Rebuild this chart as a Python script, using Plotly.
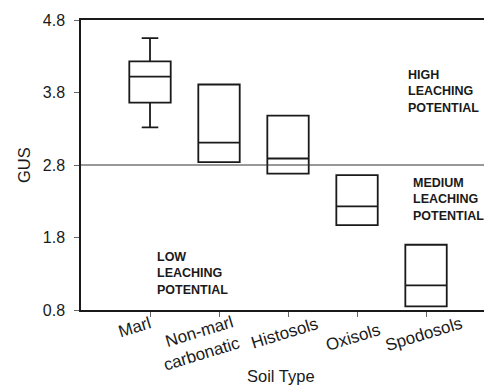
import plotly.graph_objects as go

categories = ["Marl", "Non-marl carbonatic", "Histosols", "Oxisols", "Spodosols"]
tick_labels = ["Marl", "Non-marl<br>carbonatic", "Histosols", "Oxisols", "Spodosols"]
upper = [4.55, 3.91, 3.48, 2.66, 1.70]
q3 = [4.23, 3.91, 3.48, 2.66, 1.70]
median = [4.02, 3.11, 2.89, 2.23, 1.14]
q1 = [3.66, 2.84, 2.68, 1.97, 0.85]
lower = [3.32, 2.84, 2.68, 1.97, 0.85]
y_ticks = [0.8, 1.8, 2.8, 3.8, 4.8]
threshold = 2.8

FONT = "Liberation Sans, Arial, sans-serif"
INK = "#1a1a1a"

# plot area geometry (pixels)
W, H = 484, 387
ML, MT, MB = 81, 20, 77
PH = H - MT - MB


def py_to_paper(py):
    return (H - MB - py) / PH


fig = go.Figure()
fig.add_trace(go.Box(
    x=categories, q1=q1, median=median, q3=q3,
    lowerfence=lower, upperfence=upper,
    width=0.6, whiskerwidth=0.4,
    fillcolor="rgba(255,255,255,0)",
    line=dict(color=INK, width=1.8),
    boxpoints=False, showlegend=False, hoverinfo="skip",
))

fig.add_shape(type="line", xref="paper", x0=0, x1=1, yref="y", y0=threshold, y1=threshold,
              line=dict(color="#333333", width=1))

# region labels
ann_font = dict(family=FONT, size=12.5, color=INK)
for text, x, y in [
    ("HIGH<br>LEACHING<br>POTENTIAL", 3.71, 4.17),
    ("MEDIUM<br>LEACHING<br>POTENTIAL", 3.78, 2.67),
    ("LOW<br>LEACHING<br>POTENTIAL", 0.07, 1.66),
]:
    fig.add_annotation(text=f"<b>{text}</b>", x=x, y=y, xref="x", yref="y",
                       xanchor="left", yanchor="top", align="left", showarrow=False,
                       font=ann_font)

# rotated category labels, placed at each category on the x scale
label_offsets = [(-16, 327), (-21, 343), (-4, 333), (-4, 337), (-3, 334)]
for cat, lab, (dx, py) in zip(categories, tick_labels, label_offsets):
    fig.add_annotation(text=lab, x=cat, xref="x", y=py_to_paper(py), yref="paper",
                       xanchor="center", yanchor="middle", align="right",
                       xshift=dx, textangle=-17, showarrow=False,
                       font=dict(family=FONT, size=17, color=INK))

# axis titles
fig.add_annotation(text="Soil Type", x=(281 - ML) / (W - ML), xref="paper",
                   y=py_to_paper(376), yref="paper", xanchor="center", yanchor="middle",
                   showarrow=False, font=dict(family=FONT, size=16.5, color=INK))
fig.add_annotation(text="GUS", x=(24 - ML) / (W - ML), xref="paper",
                   y=py_to_paper(165), yref="paper", xanchor="center", yanchor="middle",
                   textangle=-90, showarrow=False, font=dict(family=FONT, size=16.5, color=INK))

fig.update_layout(
    width=W, height=H,
    margin=dict(l=ML, r=0, t=MT, b=MB),
    paper_bgcolor="white", plot_bgcolor="white",
    font=dict(family=FONT, size=15, color=INK),
    xaxis=dict(
        type="category", categoryarray=categories, range=[-1, 4.84], automargin=False,
        showline=True, linecolor=INK, linewidth=1.5, mirror=True,
        ticks="outside", ticklen=5, tickcolor="#666666",
        showticklabels=False,
        showgrid=False, zeroline=False,
    ),
    yaxis=dict(
        range=[0.8, 4.8], tickvals=y_ticks, ticktext=[f"{v:.1f}" for v in y_ticks],
        automargin=False,
        showline=True, linecolor=INK, linewidth=1.5,
        ticks="outside", ticklen=5, tickcolor="#666666",
        tickfont=dict(size=16), ticklabelstandoff=6,
        showgrid=False, zeroline=False,
    ),
)

fig.write_html("out.html")
